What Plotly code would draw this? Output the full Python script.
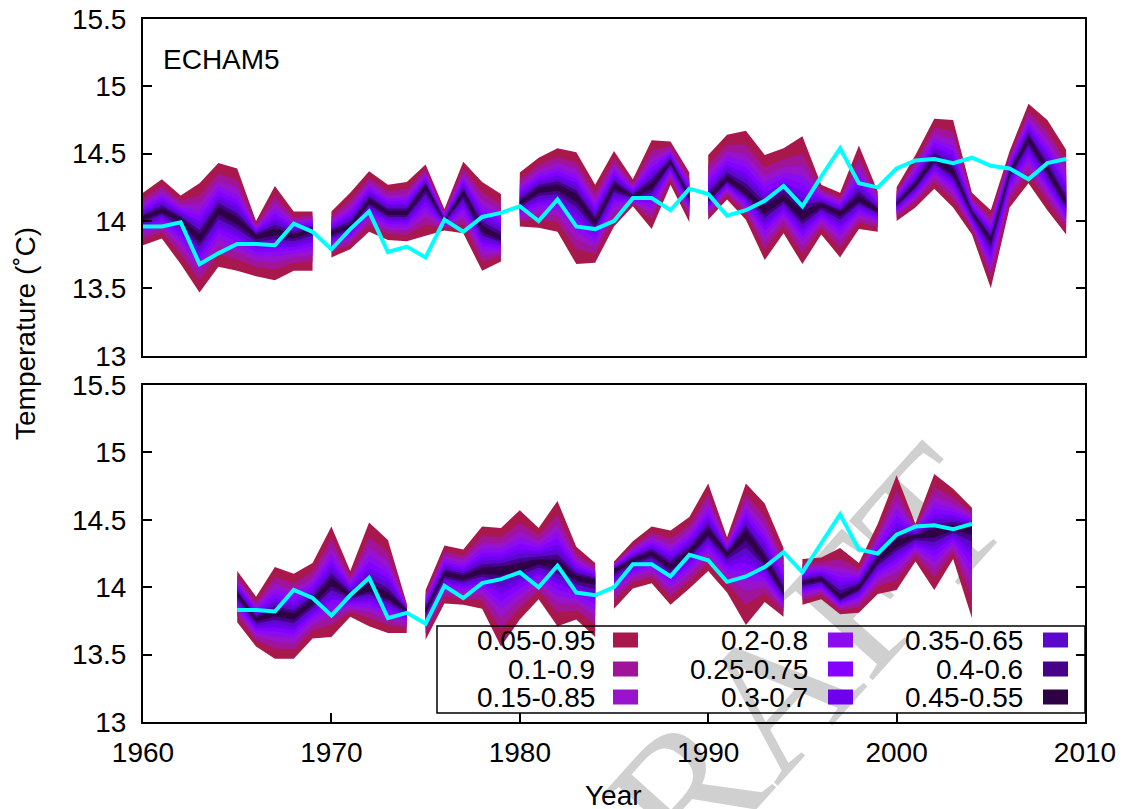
import plotly.graph_objects as go
from statistics import NormalDist

# ---------------- data ----------------
X_TICKS = [1960, 1970, 1980, 1990, 2000, 2010]
X_TICK_LABELS = ["1960", "1970", "1980", "1990", "2000", "2010"]
Y_TICKS = [13, 13.5, 14, 14.5, 15, 15.5]
Y_TICK_LABELS = ["13", "13.5", "14", "14.5", "15", "15.5"]

SEG_LEN = 10
TOP_STARTS = [1960, 1970, 1980, 1990, 2000]   # ECHAM5 panel, hindcasts
BOT_STARTS = [1965, 1975, 1985, 1995]         # lower panel

# top panel, years 1960-2009
top_q95 = [14.21, 14.31, 14.19, 14.28, 14.43, 14.39, 14.00, 14.26, 14.07, 14.07,
           14.07, 14.21, 14.37, 14.27, 14.29, 14.42, 14.09, 14.44, 14.29, 14.20,
           14.36, 14.47, 14.54, 14.51, 14.27, 14.52, 14.31, 14.60, 14.59, 14.36,
           14.49, 14.64, 14.67, 14.49, 14.54, 14.63, 14.27, 14.21, 14.56, 14.22,
           14.25, 14.49, 14.76, 14.75, 14.21, 14.08, 14.52, 14.87, 14.75, 14.53]
top_q50 = [14.02, 14.08, 14.01, 13.87, 14.08, 14.00, 13.89, 13.92, 13.89, 13.94,
           13.91, 13.96, 14.15, 14.06, 14.06, 14.26, 14.00, 14.21, 13.94, 13.87,
           14.13, 14.23, 14.25, 14.18, 13.99, 14.26, 14.18, 14.26, 14.44, 14.18,
           14.16, 14.31, 14.21, 14.08, 14.17, 14.03, 14.12, 14.06, 14.16, 14.08,
           14.13, 14.27, 14.46, 14.36, 14.06, 13.86, 14.36, 14.61, 14.38, 14.13]
top_q05 = [13.82, 13.87, 13.68, 13.47, 13.66, 13.63, 13.59, 13.56, 13.63, 13.63,
           13.73, 13.79, 13.92, 13.86, 13.85, 13.89, 13.93, 13.91, 13.63, 13.70,
           13.96, 13.95, 13.92, 13.68, 13.69, 13.96, 14.11, 13.94, 14.27, 13.99,
           14.01, 14.16, 14.01, 13.71, 13.91, 13.68, 13.90, 13.73, 13.94, 13.92,
           14.00, 14.10, 14.24, 14.10, 13.90, 13.50, 14.10, 14.28, 14.08, 13.90]

# lower panel, years 1965-2004
bot_q95 = [14.12, 13.93, 14.15, 14.10, 14.18, 14.45, 14.12, 14.48, 14.35, 13.88,
           13.98, 14.31, 14.28, 14.45, 14.44, 14.57, 14.44, 14.64, 14.30, 14.18,
           14.19, 14.34, 14.45, 14.42, 14.52, 14.77, 14.37, 14.77, 14.62, 14.29,
           14.21, 14.22, 14.29, 14.18, 14.47, 14.83, 14.47, 14.84, 14.73, 14.59]
bot_q50 = [13.95, 13.76, 13.81, 13.78, 13.89, 14.04, 13.94, 13.99, 13.93, 13.83,
           13.83, 14.10, 14.07, 14.12, 14.13, 14.15, 14.19, 14.17, 14.07, 14.05,
           14.13, 14.20, 14.25, 14.15, 14.26, 14.41, 14.25, 14.40, 14.20, 13.96,
           14.03, 14.06, 13.92, 14.00, 14.20, 14.32, 14.38, 14.40, 14.44, 14.44]
bot_q05 = [13.74, 13.56, 13.47, 13.47, 13.62, 13.63, 13.78, 13.71, 13.66, 13.66,
           13.61, 13.88, 13.87, 13.84, 13.56, 13.76, 13.91, 13.71, 13.76, 13.63,
           13.84, 13.99, 14.03, 13.87, 13.99, 14.12, 13.96, 13.72, 13.89, 13.78,
           13.87, 13.91, 13.80, 13.81, 13.95, 13.98, 14.19, 13.98, 14.21, 13.77]

# observations 1960-2009
obs_years = list(range(1960, 2010))
obs_temp = [13.96, 13.96, 13.99, 13.68, 13.76, 13.83, 13.83, 13.82, 13.98, 13.92,
            13.79, 13.94, 14.07, 13.77, 13.81, 13.73, 14.01, 13.92, 14.03, 14.06,
            14.11, 14.00, 14.16, 13.96, 13.94, 14.00, 14.17, 14.17, 14.08, 14.24,
            14.20, 14.04, 14.08, 14.15, 14.26, 14.11, 14.33, 14.54, 14.28, 14.25,
            14.39, 14.45, 14.46, 14.43, 14.47, 14.41, 14.39, 14.31, 14.43, 14.46]

BAND_LOWER_P = [0.05, 0.10, 0.15, 0.20, 0.25, 0.30, 0.35, 0.40, 0.45]
LEGEND_LABELS = ["0.05-0.95", "0.1-0.9", "0.15-0.85", "0.2-0.8", "0.25-0.75",
                 "0.3-0.7", "0.35-0.65", "0.4-0.6", "0.45-0.55"]
BAND_COLORS = ["#a8184c", "#a0149a", "#9912cc", "#8c0cf0", "#8400ff",
               "#6e00ee", "#5c08cc", "#46008a", "#2e0046"]
OBS_COLOR = "#00ffff"

FONT = "Liberation Sans"
FS = 28

# ---------------- helpers ----------------
# the page body has an 8 px margin, so page pixel = figure pixel + 8
OFF = 8
W, H = 1126, 809
ML, MR, MT, MB = 143 - OFF, 41 + OFF, 19 - OFF, 87 + OFF
PW, PH = W - ML - MR, H - MT - MB
PLOT_LEFT_PAGE = ML + OFF
PLOT_BOTTOM_PAGE = H - MB + OFF


def px(x):
    """page pixel x -> paper fraction"""
    return (x - PLOT_LEFT_PAGE) / PW


def py(y):
    """page pixel y -> paper fraction"""
    return (PLOT_BOTTOM_PAGE - y) / PH


z95 = NormalDist().inv_cdf(0.95)
band_scale = [NormalDist().inv_cdf(1 - p) / z95 for p in BAND_LOWER_P]


def band_polys(starts, first_year, q05, q50, q95, scale):
    xs, ys = [], []
    for s in starts:
        i0 = s - first_year
        yrs = list(range(s, s + SEG_LEN))
        med = q50[i0:i0 + SEG_LEN]
        hi = q95[i0:i0 + SEG_LEN]
        lo = q05[i0:i0 + SEG_LEN]
        up = [m + scale * (h - m) for m, h in zip(med, hi)]
        dn = [m - scale * (m - l) for m, l in zip(med, lo)]
        xs += yrs + yrs[::-1] + [yrs[0], None]
        ys += up + dn[::-1] + [up[0], None]
    return xs, ys


fig = go.Figure()

panels = [
    ("x2", "y2", TOP_STARTS, 1960, top_q05, top_q50, top_q95, 1960, 2009),
    ("x", "y", BOT_STARTS, 1965, bot_q05, bot_q50, bot_q95, 1965, 2004),
]
for xa, ya, starts, fy, q05, q50, q95, o0, o1 in panels:
    for k, sc in enumerate(band_scale):
        bx, by = band_polys(starts, fy, q05, q50, q95, sc)
        fig.add_trace(go.Scatter(
            x=bx, y=by, xaxis=xa, yaxis=ya, mode="lines", fill="toself",
            fillcolor=BAND_COLORS[k], line=dict(width=0, color=BAND_COLORS[k]),
            hoverinfo="skip", showlegend=False, name=LEGEND_LABELS[k]))
    i0, i1 = o0 - 1960, o1 - 1960 + 1
    fig.add_trace(go.Scatter(
        x=obs_years[i0:i1], y=obs_temp[i0:i1], xaxis=xa, yaxis=ya,
        mode="lines", line=dict(color=OBS_COLOR, width=4),
        showlegend=False, name="observations"))

axis_common = dict(showline=True, linecolor="black", linewidth=2,
                   showgrid=False, zeroline=False)
y_common = dict(axis_common, range=[13, 15.5], tickvals=Y_TICKS,
                ticktext=Y_TICK_LABELS, ticks="inside", ticklen=9,
                tickwidth=1.5, tickcolor="black", mirror="ticks",
                ticklabelstandoff=9, ticklabeloverflow="allow",
                tickfont=dict(family=FONT, size=FS, color="black"))

top_bottom = py(355.7)
bot_top = py(385)

fig.update_layout(
    width=W, height=H,
    margin=dict(l=ML, r=MR, t=MT, b=MB, autoexpand=False),
    paper_bgcolor="white", plot_bgcolor="rgba(0,0,0,0)",
    font=dict(family=FONT, size=FS, color="black"),
    showlegend=False,
    xaxis=dict(axis_common, domain=[0, 1], anchor="y", range=[1960, 2010],
               tickvals=X_TICKS, ticktext=X_TICK_LABELS, ticks="inside",
               ticklen=9, tickwidth=1.5, tickcolor="black", mirror=True,
               ticklabelstandoff=4, ticklabeloverflow="allow",
               tickfont=dict(family=FONT, size=FS, color="black")),
    yaxis=dict(y_common, domain=[0, bot_top], anchor="x"),
    xaxis2=dict(axis_common, domain=[0, 1], anchor="y2", range=[1960, 2010],
                showticklabels=False, ticks="", mirror=True),
    yaxis2=dict(y_common, domain=[top_bottom, 1], anchor="x2"),
)

annotations = [
    dict(text="ECHAM5", x=px(161), y=py(60), xref="paper", yref="paper",
         xanchor="left", yanchor="middle", showarrow=False,
         font=dict(family=FONT, size=FS, color="black")),
    dict(text="Temperature (˚C)", x=px(25), y=py(334), xref="paper", yref="paper",
         xanchor="center", yanchor="middle", textangle=-90, showarrow=False,
         font=dict(family=FONT, size=FS, color="black")),
    dict(text="Year", x=px(613), y=py(795), xref="paper", yref="paper",
         xanchor="center", yanchor="middle", showarrow=False,
         font=dict(family=FONT, size=FS, color="black")),
]

shapes = [
    # DRAFT watermark, drawn behind the data
    dict(type="rect", xref="paper", yref="paper", layer="below",
         x0=px(735), x1=px(755), y0=py(705), y1=py(685),
         line=dict(width=0), fillcolor="rgba(0,0,0,0)",
         label=dict(text="DRAFT", textangle=-48, textposition="middle center",
                    font=dict(family="Liberation Serif", size=190,
                              color="#d0d0d0"))),
    # legend frame
    dict(type="rect", xref="paper", yref="paper", x0=px(437), x1=1.0,
         y0=py(713), y1=py(626), line=dict(color="black", width=1.5),
         fillcolor="rgba(0,0,0,0)"),
]

col_text_right = [597, 810, 1025]
col_swatch_left = [613, 828, 1043]
row_y = [640, 669, 697]
for k, lab in enumerate(LEGEND_LABELS):
    c, r = divmod(k, 3)
    annotations.append(dict(
        text=lab, x=px(col_text_right[c]), y=py(row_y[r]), xref="paper",
        yref="paper", xanchor="right", yanchor="middle", showarrow=False,
        font=dict(family=FONT, size=FS, color="black")))
    shapes.append(dict(
        type="rect", xref="paper", yref="paper",
        x0=px(col_swatch_left[c]), x1=px(col_swatch_left[c] + 25),
        y0=py(row_y[r] + 7.5), y1=py(row_y[r] - 7.5),
        line=dict(width=0), fillcolor=BAND_COLORS[k]))

fig.update_layout(annotations=annotations, shapes=shapes)

fig.write_html("out.html")
